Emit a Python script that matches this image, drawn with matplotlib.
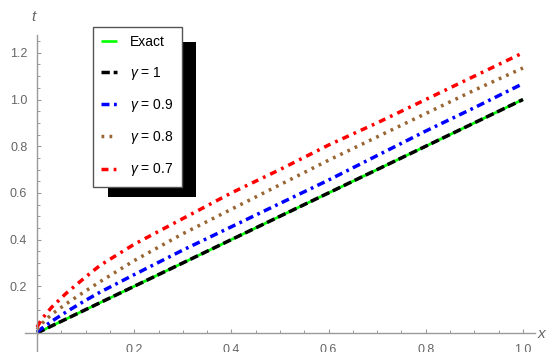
import matplotlib
matplotlib.use("Agg")
import matplotlib.pyplot as plt
from matplotlib.ticker import FixedLocator, FixedFormatter
from matplotlib.patches import Rectangle

# ---- data ----
x_vals = [0.0, 0.01, 0.03, 0.06, 0.1, 0.13, 0.2, 0.3, 0.4, 0.5, 0.6, 0.7, 0.8, 0.9, 1.0]
exact = [0.0, 0.01, 0.03, 0.06, 0.1, 0.13, 0.2, 0.3, 0.4, 0.5, 0.6, 0.7, 0.8, 0.9, 1.0]
gamma_1 = [0.0, 0.01, 0.03, 0.06, 0.1, 0.13, 0.2, 0.3, 0.4, 0.5, 0.6, 0.7, 0.8, 0.9, 1.0]
gamma_09 = [0.005, 0.02, 0.05, 0.09, 0.14, 0.175, 0.25, 0.355, 0.455, 0.555, 0.655, 0.76, 0.865, 0.965, 1.068]
gamma_08 = [0.015, 0.04, 0.08, 0.125, 0.18, 0.22, 0.31, 0.425, 0.53, 0.635, 0.74, 0.84, 0.94, 1.04, 1.135]
gamma_07 = [0.025, 0.06, 0.11, 0.17, 0.24, 0.29, 0.38, 0.49, 0.60, 0.70, 0.805, 0.90, 1.0, 1.10, 1.20]

labels = ["Exact", r"$\gamma$ = 1", r"$\gamma$ = 0.9", r"$\gamma$ = 0.8", r"$\gamma$ = 0.7"]
x_major = [0.2, 0.4, 0.6, 0.8, 1.0]
x_major_labels = ["0.2", "0.4", "0.6", "0.8", "1.0"]
y_major = [0.2, 0.4, 0.6, 0.8, 1.0, 1.2]
y_major_labels = ["0.2", "0.4", "0.6", "0.8", "1.0", "1.2"]

plt.rcParams['font.family'] = ['Liberation Sans', 'DejaVu Sans']
plt.rcParams['mathtext.fontset'] = 'custom'
plt.rcParams['mathtext.it'] = 'Liberation Sans:italic'
plt.rcParams['mathtext.rm'] = 'Liberation Sans'

W, H = 557, 352
fig = plt.figure(figsize=(W / 100, H / 100), dpi=100)
ax = fig.add_axes([25 / W, 0.0, 510 / W, (H - 35) / H])
ax.set_xlim(-0.0247, 1.0247)
ax.set_ylim(-19 / 233.5, 298 / 233.5)

lw = 2.5
l0, = ax.plot(x_vals, exact, color='#00ff00', lw=1.9, solid_capstyle='butt')
l1, = ax.plot(x_vals, gamma_1, color='black', lw=lw, dashes=(2.4, 1.1), dash_capstyle='butt')
l2, = ax.plot(x_vals, gamma_09, color='#0000ff', lw=lw, dashes=(2.3, 1.3, 0.8, 1.3), dash_capstyle='butt')
l3, = ax.plot(x_vals, gamma_08, color='#996633', lw=lw, dashes=(0.8, 1.5), dash_capstyle='butt')
l4, = ax.plot(x_vals, gamma_07, color='#ff0000', lw=lw, dashes=(2.0, 1.5, 0.8, 1.5), dash_capstyle='butt')

# axes styling (Mathematica-like)
axis_gray = '#9a9a9a'
for s in ['top', 'right']:
    ax.spines[s].set_visible(False)
ax.spines['left'].set_position(('data', 0))
ax.spines['bottom'].set_position(('data', 0))
for s in ['left', 'bottom']:
    ax.spines[s].set_color(axis_gray)
    ax.spines[s].set_linewidth(1.0)

ax.xaxis.set_major_locator(FixedLocator(x_major))
ax.xaxis.set_major_formatter(FixedFormatter(x_major_labels))
ax.yaxis.set_major_locator(FixedLocator(y_major))
ax.yaxis.set_major_formatter(FixedFormatter(y_major_labels))
ax.xaxis.set_minor_locator(FixedLocator([i * 0.05 for i in range(1, 21) if i % 4 != 0]))
ax.yaxis.set_minor_locator(FixedLocator([i * 0.05 for i in range(1, 26) if i % 4 != 0]))

ax.tick_params(which='both', direction='in', color=axis_gray, labelcolor='#666666', labelsize=9)
ax.tick_params(which='major', length=3.2, width=0.8)
ax.tick_params(which='minor', length=2.0, width=0.7)
ax.tick_params(axis='x', which='major', pad=8)
ax.tick_params(axis='y', which='major', pad=7)

fig.text(33 / W, 1 - 17 / H, 't', style='italic', color='#666666', fontsize=11, ha='center', va='center')
fig.text(541 / W, 1 - 334 / H, 'x', style='italic', color='#666666', fontsize=11, ha='center', va='center')

# legend with black drop shadow
leg = fig.legend([l0, l1, l2, l3, l4], labels, loc='upper left',
                 bbox_to_anchor=(93 / W, 1 - 27 / H), bbox_transform=fig.transFigure,
                 borderaxespad=0, fancybox=False, fontsize=10, handlelength=1.1,
                 handletextpad=0.95, labelspacing=1.1, borderpad=0.6, framealpha=1)
leg.get_frame().set_edgecolor('#555555')
leg.get_frame().set_linewidth(1.0)
leg.set_zorder(5)
fig.patches.append(Rectangle((108 / W, 1 - 197 / H), 88 / W, 155 / H, transform=fig.transFigure,
                             facecolor='black', edgecolor='none', zorder=4))

fig.savefig('out.png', dpi=100)
